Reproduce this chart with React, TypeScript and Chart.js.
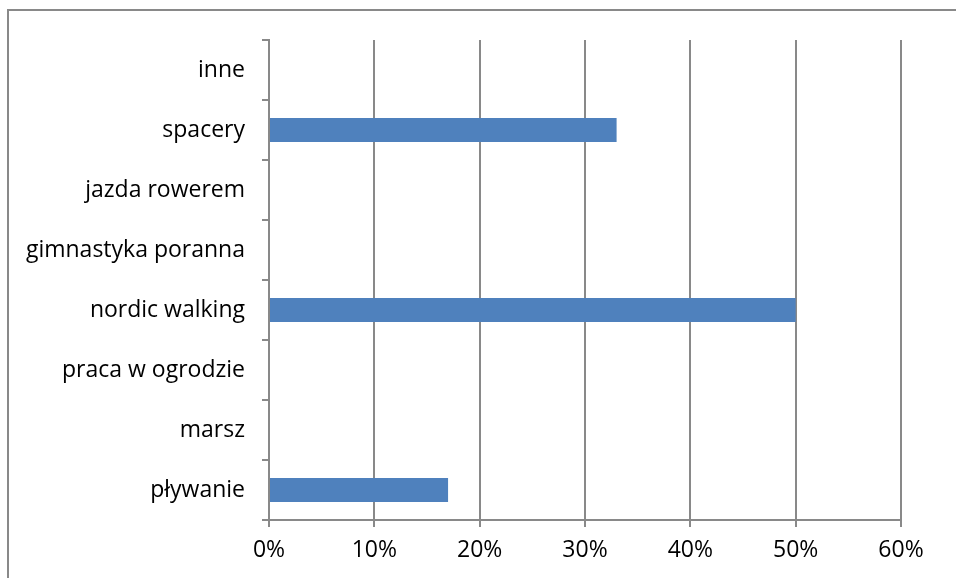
import React, { useEffect, useRef } from "react";
import { Chart, registerables } from "chart.js";

Chart.register(...registerables);

// Activities, listed top to bottom as they appear on the axis
const activities = [
  "inne",
  "spacery",
  "jazda rowerem",
  "gimnastyka poranna",
  "nordic walking",
  "praca w ogrodzie",
  "marsz",
  "pływanie",
];

// Share of respondents (%) per activity
const shares = [0, 33, 0, 0, 50, 0, 0, 17];

// Percent axis ticks
const percentTicks = [0, 10, 20, 30, 40, 50, 60];

const FONT = "'Open Sans', Lato, sans-serif";
const GRID = "#898989";

// Frame drawn around the chart area (top and left edges visible)
const framePlugin = {
  id: "frame",
  beforeDraw(chart: Chart) {
    const ctx = chart.ctx;
    ctx.save();
    ctx.strokeStyle = GRID;
    ctx.lineWidth = 2;
    ctx.strokeRect(8, 10, chart.width + 20, chart.height + 20);
    ctx.restore();
  },
};

export default function App() {
  const canvasRef = useRef<HTMLCanvasElement | null>(null);

  useEffect(() => {
    document.body.style.margin = "0";
    const canvas = canvasRef.current;
    if (!canvas) return;
    const chart = new Chart(canvas, {
      type: "bar",
      data: {
        labels: activities,
        datasets: [
          {
            data: shares,
            backgroundColor: "#4F81BD",
            borderWidth: 0,
            barPercentage: 0.4,
            categoryPercentage: 1,
          },
        ],
      },
      options: {
        indexAxis: "y",
        animation: false,
        responsive: false,
        maintainAspectRatio: false,
        layout: { padding: { top: 40, right: 55, left: 0, bottom: 0 } },
        plugins: {
          legend: { display: false },
          tooltip: { enabled: false },
        },
        scales: {
          x: {
            min: percentTicks[0],
            max: percentTicks[percentTicks.length - 1],
            afterFit(scale: any) {
              scale.height = 58;
            },
            afterBuildTicks(scale: any) {
              scale.ticks = percentTicks.map((v) => ({ value: v }));
            },
            ticks: {
              callback: (v: any) => `${v}%`,
              color: "#000",
              font: { family: FONT, size: 23 },
              padding: 10,
              maxRotation: 0,
            },
            grid: {
              color: GRID,
              lineWidth: 2,
              tickLength: 7,
              drawTicks: true,
            },
            border: { color: GRID, width: 2 },
          },
          y: {
            afterFit(scale: any) {
              scale.width = 269;
            },
            ticks: {
              color: "#000",
              font: { family: FONT, size: 23 },
              padding: 17,
            },
            grid: {
              drawOnChartArea: false,
              color: GRID,
              lineWidth: 2,
              tickLength: 7,
              offset: true,
            },
            border: { color: GRID, width: 2 },
          },
        },
      },
      plugins: [framePlugin],
    });
    return () => chart.destroy();
  }, []);

  return (
    <div style={{ position: "absolute", left: 0, top: 0, width: 956, height: 578, background: "#fff" }}>
      <canvas ref={canvasRef} width={956} height={578} style={{ display: "block" }} />
    </div>
  );
}
